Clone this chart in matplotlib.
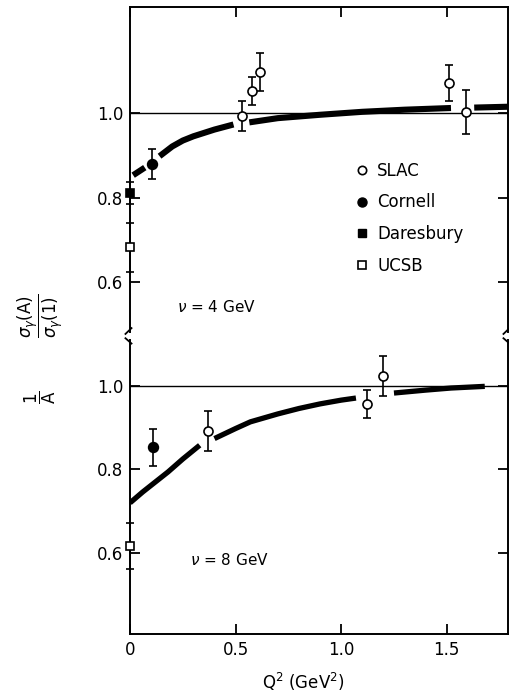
import matplotlib
matplotlib.use("Agg")
import matplotlib.pyplot as plt
from matplotlib.lines import Line2D
import numpy as np

plt.rcParams['font.family'] = ['DejaVu Sans']
plt.rcParams['mathtext.fontset'] = 'dejavusans'

# nu = 4 GeV panel
nu4_slac_q2 = [0.53, 0.58, 0.616, 1.51, 1.59]
nu4_slac_r = [0.993, 1.052, 1.097, 1.071, 1.002]
nu4_slac_err = [0.035, 0.034, 0.045, 0.043, 0.052]
nu4_cornell_q2 = [0.104]
nu4_cornell_r = [0.879]
nu4_cornell_err = [0.036]
nu4_daresbury_q2 = [0.0]
nu4_daresbury_r = [0.811]
nu4_daresbury_err = [0.026]
nu4_ucsb_q2 = [0.0]
nu4_ucsb_r = [0.683]
nu4_ucsb_err = [0.058]
# theory curve (nan = gap in the drawn curve)
nu4_curve_q2 = [0.015, 0.07, np.nan, 0.14, 0.2, 0.25, 0.3, 0.4, 0.49, np.nan,
                0.565, 0.7, 0.9, 1.1, 1.3, 1.52, np.nan, 1.63, 1.79]
nu4_curve_r = [0.853, 0.871, np.nan, 0.898, 0.921, 0.935, 0.945, 0.961, 0.973, np.nan,
               0.978, 0.988, 0.996, 1.003, 1.008, 1.012, np.nan, 1.013, 1.015]

# nu = 8 GeV panel
nu8_slac_q2 = [0.37, 1.12, 1.20]
nu8_slac_r = [0.892, 0.957, 1.024]
nu8_slac_err = [0.048, 0.033, 0.048]
nu8_cornell_q2 = [0.108]
nu8_cornell_r = [0.853]
nu8_cornell_err = [0.045]
nu8_ucsb_q2 = [0.0]
nu8_ucsb_r = [0.617]
nu8_ucsb_err = [0.055]
nu8_curve_q2 = [0.0, 0.06, 0.12, 0.18, 0.25, 0.33, np.nan, 0.40, 0.5, 0.57, 0.7,
                0.8, 0.9, 1.0, 1.07, np.nan, 1.25, 1.4, 1.52, 1.68]
nu8_curve_r = [0.720, 0.746, 0.770, 0.794, 0.825, 0.858, np.nan, 0.874, 0.898, 0.914, 0.933,
               0.946, 0.957, 0.966, 0.971, np.nan, 0.983, 0.990, 0.995, 0.999]

xticks = [0, 0.5, 1.0, 1.5]
xtick_labels = ['0', '0.5', '1.0', '1.5']
yticks = [0.6, 0.8, 1.0]
ytick_labels = ['0.6', '0.8', '1.0']

fig = plt.figure(figsize=(5.1, 6.93), dpi=100)
ax1 = fig.add_axes([130/510, 1-332/693, 378/510, 325/693])
ax2 = fig.add_axes([130/510, 1-634/693, 378/510, 294/693])

ax1.set_ylim(0.482, 1.251)
ax2.set_ylim(0.406, 1.110)

def draw_points(ax, q2, r, err, marker, face, ms):
    ax.errorbar(q2, r, yerr=err, fmt=marker, mfc=face, mec='black', mew=1.2, ms=ms,
                ecolor='black', elinewidth=1.2, capsize=3, capthick=1.2,
                clip_on=False, zorder=5)

for ax in (ax1, ax2):
    ax.set_xlim(0, 1.79)
    ax.axhline(1.0, color='black', lw=1.0, zorder=1)
    for s in ax.spines.values():
        s.set_linewidth(1.4)
    ax.set_yticks(yticks)
    ax.set_yticklabels(ytick_labels)
    ax.tick_params(direction='in', length=7, width=1.3, labelsize=12,
                   top=True, right=True, pad=5)

ax1.spines['bottom'].set_visible(False)
ax2.spines['top'].set_visible(False)
ax1.tick_params(bottom=False, labelbottom=False)
ax1.set_xticks(xticks)
ax2.set_xticks(xticks)
ax2.set_xticklabels(xtick_labels)
ax2.tick_params(top=False)

# curves
ax1.plot(nu4_curve_q2, nu4_curve_r, color='black', lw=4.4, solid_capstyle='butt', zorder=2)
ax2.plot(nu8_curve_q2, nu8_curve_r, color='black', lw=3.8, solid_capstyle='butt', zorder=2)

draw_points(ax1, nu4_slac_q2, nu4_slac_r, nu4_slac_err, 'o', 'white', 6.5)
draw_points(ax1, nu4_cornell_q2, nu4_cornell_r, nu4_cornell_err, 'o', 'black', 7)
draw_points(ax1, nu4_daresbury_q2, nu4_daresbury_r, nu4_daresbury_err, 's', 'black', 6)
draw_points(ax1, nu4_ucsb_q2, nu4_ucsb_r, nu4_ucsb_err, 's', 'white', 6)

draw_points(ax2, nu8_slac_q2, nu8_slac_r, nu8_slac_err, 'o', 'white', 6.5)
draw_points(ax2, nu8_cornell_q2, nu8_cornell_r, nu8_cornell_err, 'o', 'black', 7)
draw_points(ax2, nu8_ucsb_q2, nu8_ucsb_r, nu8_ucsb_err, 's', 'white', 6)

# legend
handles = [
    Line2D([], [], ls='none', marker='o', mfc='white', mec='black', mew=1.2, ms=6),
    Line2D([], [], ls='none', marker='o', mfc='black', mec='black', ms=6.5),
    Line2D([], [], ls='none', marker='s', mfc='black', mec='black', ms=6),
    Line2D([], [], ls='none', marker='s', mfc='white', mec='black', mew=1.2, ms=5.5),
]
ax1.legend(handles, ['SLAC', 'Cornell', 'Daresbury', 'UCSB'], loc='center left',
           bbox_to_anchor=(0.575, 0.35), frameon=False, fontsize=12,
           handlelength=0.8, handletextpad=0.5, labelspacing=0.82, borderpad=0)

ax1.text(0.124, 0.077, r'$\nu$ = 4 GeV', transform=ax1.transAxes, fontsize=11, va='center')
ax2.text(0.159, 0.252, r'$\nu$ = 8 GeV', transform=ax2.transAxes, fontsize=11, va='center')

# axis break marks
for ax, yb, sgn in ((ax1, 0.0, -1), (ax2, 1.0, 1)):
    for xb in (0.0, 1.0):
        ax.plot([xb - 0.012, xb + 0.004], [yb + sgn*0.006, yb - sgn*0.012],
                transform=ax.transAxes, color='black', lw=1.3, clip_on=False)

fig.text(40/510, 1-316/693, r'$\dfrac{\sigma_\gamma(\mathrm{A})}{\sigma_\gamma(1)}$',
         rotation=90, ha='center', va='center', fontsize=12)
fig.text(40/510, 1-397/693, r'$\dfrac{1}{\mathrm{A}}$', rotation=90, ha='center',
         va='center', fontsize=12)
fig.text(303/510, 1-682/693, r'Q$^2$ (GeV$^2$)', ha='center', va='center', fontsize=12)

fig.savefig('out.png', dpi=100)
